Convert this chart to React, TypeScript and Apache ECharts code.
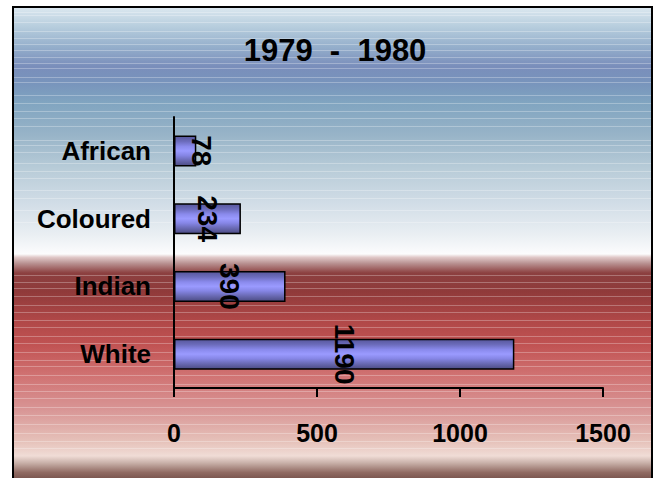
import React, { useEffect, useRef } from "react";
import * as echarts from "echarts";

const categories = ["White", "Indian", "Coloured", "African"];
const values = [1190, 390, 234, 78];
const xTicks = [0, 500, 1000, 1500];
const titleText = "1979  -  1980";

// decorative background stripe rows (page y)
const stripeRows = [12, 15, 22, 31, 38, 44, 50, 57, 63, 68, 77, 82, 95, 103, 111, 118, 126, 140, 145, 152, 163, 171, 178, 190, 198, 210, 222,
  275, 282, 288, 296, 305, 312, 320, 327, 336, 343, 352, 360, 366, 375, 384, 391, 398, 407, 415, 424, 433, 441, 448];

const ARIAL = "'Liberation Sans', Arial, sans-serif";

export default function App() {
  const ref = useRef<HTMLDivElement>(null);
  useEffect(() => {
    if (!ref.current) return;
    const chart = echarts.init(ref.current, null, { renderer: "svg" });
    const bg = new echarts.graphic.LinearGradient(0, 0, 0, 1, [
      { offset: 0.0, color: "#dce8f0" },
      { offset: 0.04, color: "#b8cede" },
      { offset: 0.085, color: "#94aecb" },
      { offset: 0.125, color: "#7a8ebb" },
      { offset: 0.16, color: "#7894bc" },
      { offset: 0.2, color: "#80a4c0" },
      { offset: 0.27, color: "#98b4c8" },
      { offset: 0.34, color: "#b8ccd8" },
      { offset: 0.41, color: "#d0dce6" },
      { offset: 0.48, color: "#eaeff3" },
      { offset: 0.52, color: "#fcfcfd" },
      { offset: 0.527, color: "#e0c8c8" },
      { offset: 0.54, color: "#b89090" },
      { offset: 0.56, color: "#8c4040" },
      { offset: 0.6, color: "#903a3a" },
      { offset: 0.66, color: "#b04848" },
      { offset: 0.71, color: "#c05252" },
      { offset: 0.775, color: "#d07272" },
      { offset: 0.845, color: "#d89494" },
      { offset: 0.915, color: "#e6c2ba" },
      { offset: 0.945, color: "#f0dcd6" },
      { offset: 0.96, color: "#c8b0a8" },
      { offset: 0.98, color: "#906a62" },
      { offset: 1.0, color: "#6e4a44" },
    ]);
    const barFill = new echarts.graphic.LinearGradient(0, 0, 0, 1, [
      { offset: 0, color: "#56569a" },
      { offset: 0.18, color: "#6c6cbc" },
      { offset: 0.35, color: "#8a8aec" },
      { offset: 0.5, color: "#9a9aff" },
      { offset: 0.65, color: "#8686e6" },
      { offset: 0.82, color: "#6a6ab4" },
      { offset: 1, color: "#4c4c84" },
    ]);
    const graphics: any[] = [
      {
        type: "rect",
        z: -20,
        silent: true,
        shape: { x: 13, y: 7, width: 639, height: 475 },
        style: { fill: bg, stroke: "#000", lineWidth: 2 },
      },
      ...stripeRows.map((y) => ({
        type: "line",
        z: -19,
        silent: true,
        shape: { x1: 14, y1: y + 0.5, x2: 651, y2: y + 0.5 },
        style: { stroke: "rgba(255,255,255,0.28)", lineWidth: 1 },
      })),
    ];
    chart.setOption({
      animation: false,
      title: {
        text: titleText,
        left: 330,
        top: 30,
        textAlign: "center",
        textStyle: { fontFamily: ARIAL, fontWeight: "bold", fontSize: 31, color: "#000" },
      },
      graphic: graphics,
      grid: { left: 174, right: 52, top: 117, bottom: 90, containLabel: false },
      xAxis: {
        type: "value",
        min: 0,
        max: 1500,
        interval: 500,
        splitLine: { show: false },
        axisLine: { show: true, lineStyle: { color: "#000", width: 2 } },
        axisTick: { show: true, length: 9, lineStyle: { color: "#000", width: 2 } },
        axisLabel: {
          margin: 32,
          fontFamily: ARIAL,
          fontWeight: "bold",
          fontSize: 25,
          color: "#000",
          formatter: (v: number) => (xTicks.includes(v) ? String(v) : ""),
        },
      },
      yAxis: {
        type: "category",
        data: categories,
        axisLine: { show: true, lineStyle: { color: "#000", width: 2 } },
        axisTick: { show: false },
        axisLabel: {
          margin: 23,
          fontFamily: ARIAL,
          fontWeight: "bold",
          fontSize: 26,
          color: "#000",
        },
      },
      series: [
        {
          type: "bar",
          barWidth: 31,
          data: values.map((v) =>
            v === 78 ? { value: v, label: { offset: [0, -16] } } : { value: v }
          ),
          itemStyle: { color: barFill, borderColor: "#000", borderWidth: 1.5 },
          label: {
            show: true,
            position: "inside",
            rotate: -90,
            fontFamily: ARIAL,
            fontWeight: "bold",
            fontSize: 28,
            color: "#000",
          },
        },
      ],
    });
    return () => chart.dispose();
  }, []);
  return (
    <div
      ref={ref}
      style={{ position: "fixed", left: 0, top: 0, width: 655, height: 478, background: "#fff" }}
    />
  );
}
